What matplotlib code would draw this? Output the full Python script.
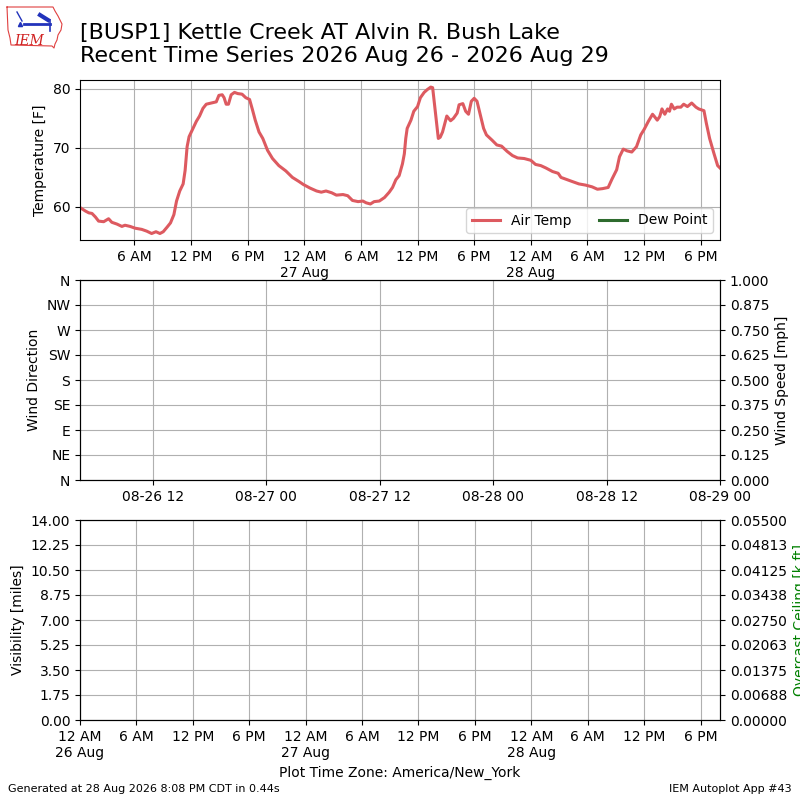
import datetime

import matplotlib
matplotlib.use("Agg")
import matplotlib.pyplot as plt
import matplotlib.dates as mdates
from matplotlib.ticker import FixedLocator, FormatStrFormatter, FuncFormatter

# hours after 2026-08-26 00:00 (America/New_York) and air temperature [F]
hours = [
    0.23, 0.81, 1.16, 1.5, 1.86, 2.2, 2.74, 3.26, 3.6, 4.14, 4.67, 5.0, 5.54,
    6.07, 6.77, 7.3, 7.82, 8.28, 8.7, 9.05, 9.47, 9.82, 10.18, 10.46, 10.8,
    11.16, 11.37, 11.58, 11.79, 12.21, 12.56, 12.9, 13.26, 13.61, 14.14,
    14.67, 14.95, 15.3, 15.5, 15.72, 15.96, 16.25, 16.6, 16.95, 17.4, 17.8,
    18.2, 18.5, 18.8, 19.2, 19.6, 20.1, 20.63, 21.3, 22.04, 22.74, 23.44,
    23.9, 24.6, 25.3, 25.8, 26.3, 26.9, 27.4, 28.1, 28.6, 29.1, 29.7, 30.2,
    30.55, 31.0, 31.4, 31.95, 32.5, 33.0, 33.35, 33.7, 34.05, 34.4, 34.6,
    34.75, 34.9, 35.3, 35.6, 36.0, 36.3, 36.7, 37.05, 37.4, 37.6, 37.9,
    38.2, 38.4, 38.65, 38.9, 39.1, 39.5, 39.8, 40.2, 40.4, 40.8, 41.1, 41.4,
    41.7, 42.0, 42.3, 42.6, 43.0, 43.3, 43.9, 44.4, 44.9, 45.5, 46.06, 46.6,
    47.3, 48.0, 48.5, 49.06, 49.6, 50.3, 50.9, 51.2, 51.7, 52.4, 53.1, 53.8,
    54.5, 55.06, 55.6, 56.2, 56.6, 57.1, 57.4, 57.8, 58.2, 58.7, 59.2,
    59.65, 60.0, 60.46, 60.9, 61.06, 61.4, 61.66, 61.9, 62.2, 62.5, 62.7,
    62.9, 63.2, 63.5, 63.9, 64.2, 64.6, 65.05, 65.5, 65.8, 66.35, 66.6,
    66.95, 67.4, 67.8, 68.05,
]
temps = [
    59.9, 59.3, 59.0, 58.9, 58.3, 57.6, 57.5, 58.0, 57.4, 57.1, 56.7, 56.9,
    56.7, 56.4, 56.2, 55.9, 55.5, 55.8, 55.5, 55.8, 56.6, 57.3, 58.7, 61.0,
    62.7, 63.9, 66.2, 70.2, 71.9, 73.3, 74.5, 75.4, 76.7, 77.4, 77.6, 77.8,
    78.9, 79.0, 78.5, 77.4, 77.4, 79.0, 79.4, 79.2, 79.1, 78.5, 78.2, 76.5,
    74.7, 72.7, 71.6, 69.6, 68.2, 67.0, 66.1, 65.0, 64.3, 63.8, 63.2, 62.7,
    62.5, 62.7, 62.4, 62.0, 62.1, 61.9, 61.1, 60.9, 61.0, 60.7, 60.5, 60.9,
    61.0, 61.6, 62.5, 63.3, 64.6, 65.3, 67.3, 69.0, 71.6, 73.3, 74.7, 76.2,
    77.0, 78.5, 79.4, 79.9, 80.3, 80.2, 75.9, 71.6, 71.8, 72.7, 74.2, 75.4,
    74.6, 75.0, 75.9, 77.3, 77.5, 76.2, 75.7, 77.9, 78.4, 77.9, 75.9, 73.3,
    72.2, 71.3, 70.5, 70.3, 69.4, 68.7, 68.3, 68.2, 67.9, 67.2, 67.0, 66.6,
    66.0, 65.7, 65.0, 64.7, 64.3, 63.9, 63.7, 63.4, 63.0, 63.1, 63.3, 64.7,
    66.3, 68.5, 69.8, 69.5, 69.3, 70.2, 72.2, 73.1, 74.5, 75.7, 75.4, 74.7,
    75.3, 76.6, 75.7, 76.6, 76.2, 77.4, 76.6, 76.9, 76.9, 77.4, 77.0, 77.6,
    76.9, 76.6, 76.3, 74.2, 71.6, 69.1, 67.0, 66.6,
]

compass = ["N", "NE", "E", "SE", "S", "SW", "W", "NW", "N"]
station = "[BUSP1] Kettle Creek AT Alvin R. Bush Lake"
subtitle = "Recent Time Series 2026 Aug 26 - 2026 Aug 29"

base = datetime.datetime(2026, 8, 26, 0, 0)
times = [base + datetime.timedelta(hours=h) for h in hours]

TEMP_COLOR = "#dd5a60"
DEW_COLOR = "#2e6b2e"


def ampm(x, pos=None):
    d = mdates.num2date(x)
    s = d.strftime("%I %p").lstrip("0")
    if d.hour == 0:
        s += "\n" + d.strftime("%d %b").lstrip("0")
    return s


fig = plt.figure(figsize=(8, 8), dpi=100)

# --- temperature
ax1 = fig.add_axes([0.1, 0.7, 0.8, 0.2])
ax1.plot(times, temps, color=TEMP_COLOR, lw=2.2, label="Air Temp")
ax1.plot([], [], color=DEW_COLOR, lw=2.2, label="Dew Point")
ax1.set_xlim(times[0], times[-1])
ax1.set_ylim(54.4, 81.5)
ax1.set_yticks([60, 70, 80])
ax1.set_ylabel("Temperature [F]")
ax1.xaxis.set_major_locator(mdates.HourLocator(byhour=range(0, 24, 6)))
ax1.xaxis.set_major_formatter(FuncFormatter(ampm))
ax1.grid(True)
ax1.legend(loc="lower right", ncol=2)

# --- wind
ax2 = fig.add_axes([0.1, 0.4, 0.8, 0.25])
ax2.set_xlim(base + datetime.timedelta(hours=4.28),
             base + datetime.timedelta(hours=72))
ax2.set_ylim(0, 360)
ax2.set_yticks(range(0, 361, 45))
ax2.set_yticklabels(compass)
ax2.set_ylabel("Wind Direction")
ax2.xaxis.set_major_locator(mdates.HourLocator(byhour=[0, 12]))
ax2.xaxis.set_major_formatter(mdates.DateFormatter("%m-%d %H"))
ax2.grid(True)
ax2b = ax2.twinx()
ax2b.set_ylim(0, 1)
ax2b.yaxis.set_major_locator(FixedLocator([i * 0.125 for i in range(9)]))
ax2b.yaxis.set_major_formatter(FormatStrFormatter("%.3f"))
ax2b.set_ylabel("Wind Speed [mph]")

# --- visibility / ceiling
ax3 = fig.add_axes([0.1, 0.1, 0.8, 0.25])
ax3.set_xlim(base, base + datetime.timedelta(hours=68.07))
ax3.set_ylim(0, 14)
ax3.yaxis.set_major_locator(FixedLocator([i * 1.75 for i in range(9)]))
ax3.yaxis.set_major_formatter(FormatStrFormatter("%.2f"))
ax3.set_ylabel("Visibility [miles]")
ax3.xaxis.set_major_locator(mdates.HourLocator(byhour=range(0, 24, 6)))
ax3.xaxis.set_major_formatter(FuncFormatter(ampm))
ax3.set_xlabel("Plot Time Zone: America/New_York")
ax3.grid(True)
ax3b = ax3.twinx()
ax3b.set_ylim(0, 0.055)
ax3b.yaxis.set_major_locator(FixedLocator([i * 0.055 / 8 for i in range(9)]))
ax3b.yaxis.set_major_formatter(FormatStrFormatter("%.5f"))
ax3b.set_ylabel("Overcast Ceiling [k ft]", color="green")

# --- titles and footer
fig.text(0.1, 0.971, station + "\n" + subtitle, fontsize=16, va="top",
         linespacing=1.15)
fig.text(0.01, 0.01, "Generated at 28 Aug 2026 8:08 PM CDT in 0.44s",
         fontsize=8)
fig.text(0.99, 0.01, "IEM Autoplot App #43", fontsize=8, ha="right")

# --- small IEM logo (pixel-like coords, y down)
lax = fig.add_axes([0.0, 0.93, 0.09, 0.07])
lax.set_xlim(0, 72)
lax.set_ylim(56, 0)
lax.axis("off")
ox = [7, 53, 55, 58, 62, 61, 58, 57, 55, 54, 52, 11, 10, 8, 7]
oy = [7, 7, 11, 16, 24, 30, 35, 40, 44, 48, 46, 45, 38, 30, 7]
lax.plot(ox, oy, color="#e04040", lw=0.8)
lax.plot([24, 50], [24, 24], color="#2233bb", lw=2)
lax.plot([50, 50], [20, 31], color="#2233bb", lw=1.2)
lax.plot([17, 22], [12, 21], color="#2233bb", lw=1)
lax.plot([40, 48], [15, 20], color="#2233bb", lw=3)
lax.plot([20], [24], marker="^", color="#2233bb", ms=3)
lax.text(14, 45, "IEM", color="#d02020", fontsize=10, style="italic",
         family="DejaVu Serif", va="baseline")

fig.savefig("out.png", dpi=100)
